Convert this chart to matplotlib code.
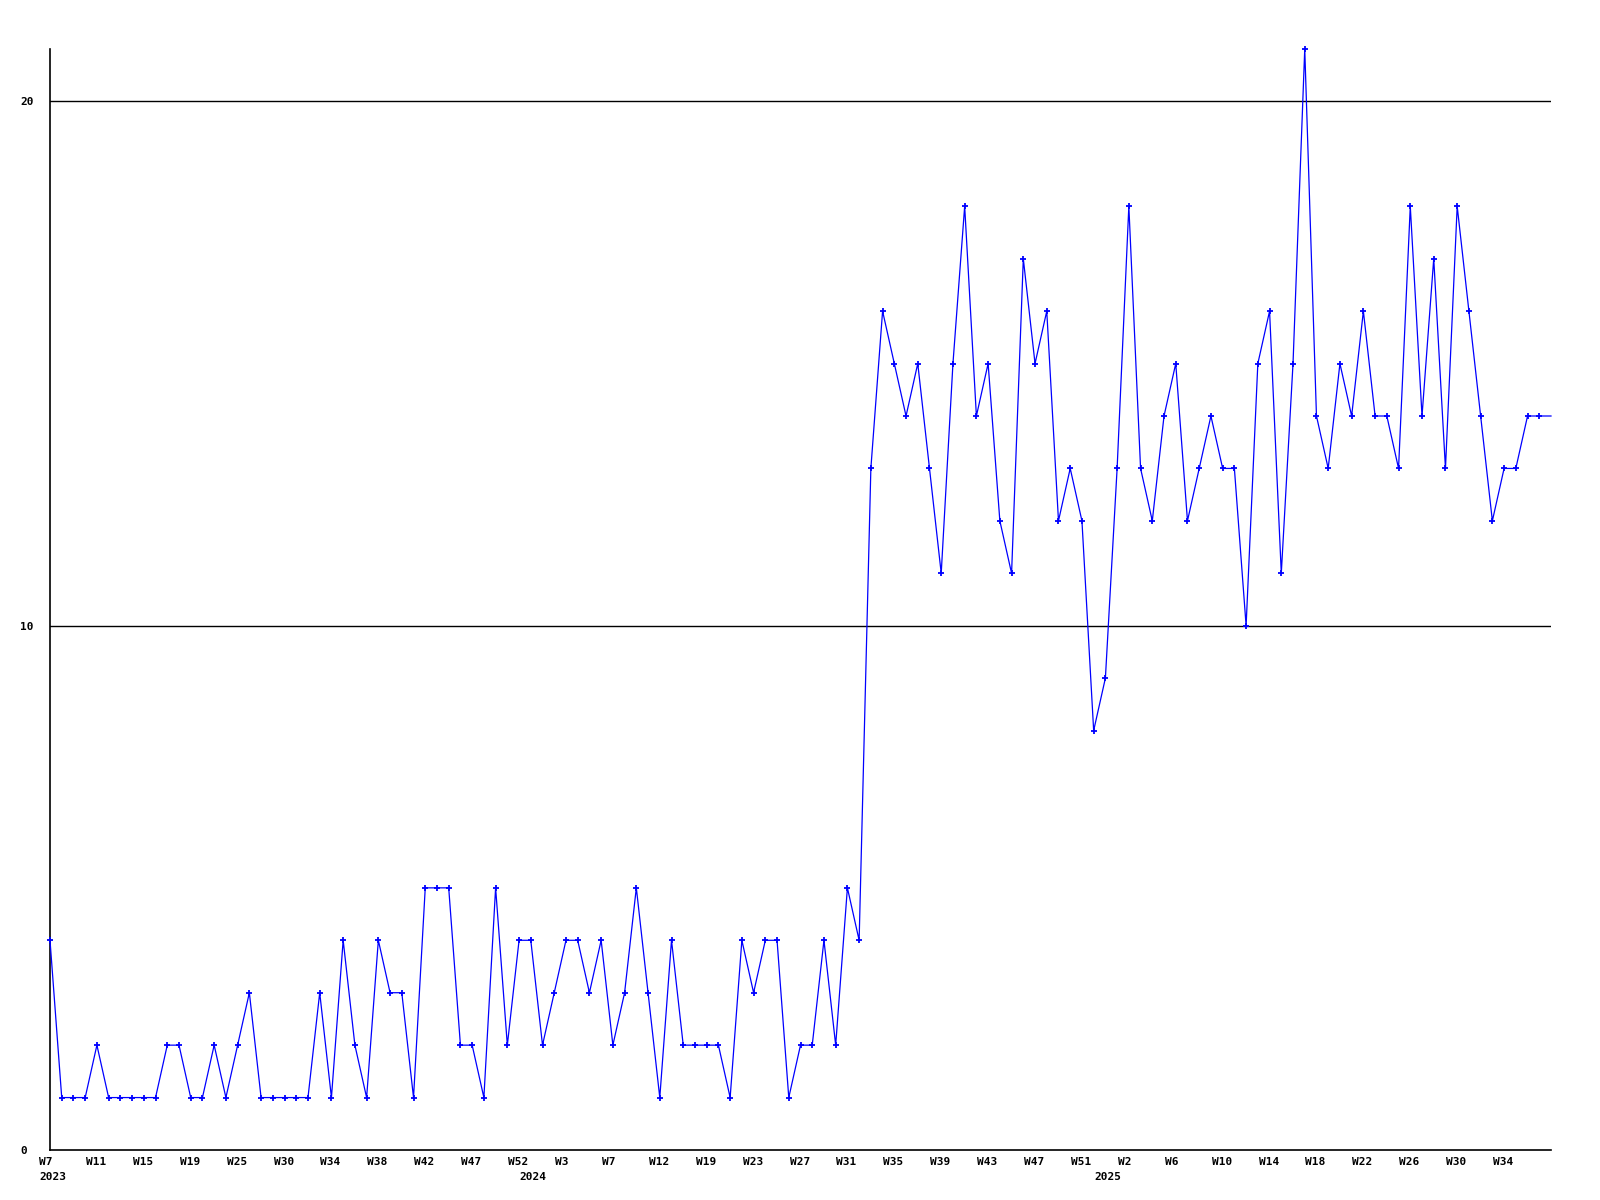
import matplotlib
matplotlib.use("Agg")
import matplotlib.pyplot as plt
import matplotlib.transforms as mtransforms
import numpy as np

# weekly counts, one value per plotted week (last value sits on the right edge)
values = [
    4, 1, 1, 1, 2, 1, 1, 1, 1, 1, 2, 2, 1, 1, 2, 1, 2, 3, 1, 1,
    1, 1, 1, 3, 1, 4, 2, 1, 4, 3, 3, 1, 5, 5, 5, 2, 2, 1, 5, 2,
    4, 4, 2, 3, 4, 4, 3, 4, 2, 3, 5, 3, 1, 4, 2, 2, 2, 2, 1, 4,
    3, 4, 4, 1, 2, 2, 4, 2, 5, 4, 13, 16, 15, 14, 15, 13, 11, 15, 18, 14,
    15, 12, 11, 17, 15, 16, 12, 13, 12, 8, 9, 13, 18, 13, 12, 14, 15, 12, 13, 14,
    13, 13, 10, 15, 16, 11, 15, 21, 14, 13, 15, 14, 16, 14, 14, 13, 18, 14, 17, 13,
    18, 16, 14, 12, 13, 13, 14, 14, 14,
]
week_labels = [
    "W7", "W11", "W15", "W19", "W25", "W30", "W34", "W38", "W42", "W47", "W52",
    "W3", "W7", "W12", "W19", "W23", "W27", "W31", "W35", "W39", "W43", "W47",
    "W51", "W2", "W6", "W10", "W14", "W18", "W22", "W26", "W30", "W34",
]
week_label_every = 4
year_labels = ["2023", "2024", "2025"]
year_positions = [0, 41, 90]
y_ticks = [0, 10, 20]

fig = plt.figure(figsize=(16, 12), dpi=100)
ax = fig.add_axes([50 / 1600, 50 / 1200, 1501 / 1600, 1101 / 1200])

x = np.arange(len(values))
ax.plot(x, values, color="#0000ff", linewidth=0.9, marker="+",
        markersize=3.8, markeredgewidth=1.3, markevery=slice(0, len(values) - 1),
        clip_on=False, zorder=3)

for yv in y_ticks[1:]:
    ax.axhline(yv, color="black", linewidth=1.0, zorder=1)

ax.set_xlim(0, len(values) - 1)
ax.set_ylim(0, 21)
for side in ("top", "right"):
    ax.spines[side].set_visible(False)
for side in ("left", "bottom"):
    ax.spines[side].set_linewidth(1.2)
    ax.spines[side].set_color("black")

font = dict(family="DejaVu Sans Mono", fontweight="bold", fontsize=8)
ax.set_yticks(y_ticks)
ax.set_yticklabels([str(v) for v in y_ticks], ha="left", **font)
ax.tick_params(axis="y", length=0, pad=21.6)
ax.set_xticks([])

base = mtransforms.blended_transform_factory(ax.transData, ax.transAxes)
row1 = mtransforms.offset_copy(base, fig=fig, x=-0.11, y=-0.12, units="inches")
row2 = mtransforms.offset_copy(base, fig=fig, x=-0.11, y=-0.27, units="inches")
for i, lab in enumerate(week_labels):
    ax.text(i * week_label_every, 0, lab, transform=row1, ha="left", va="center", **font)
for pos, lab in zip(year_positions, year_labels):
    ax.text(pos, 0, lab, transform=row2, ha="left", va="center", **font)

fig.savefig("out.png", dpi=100)
